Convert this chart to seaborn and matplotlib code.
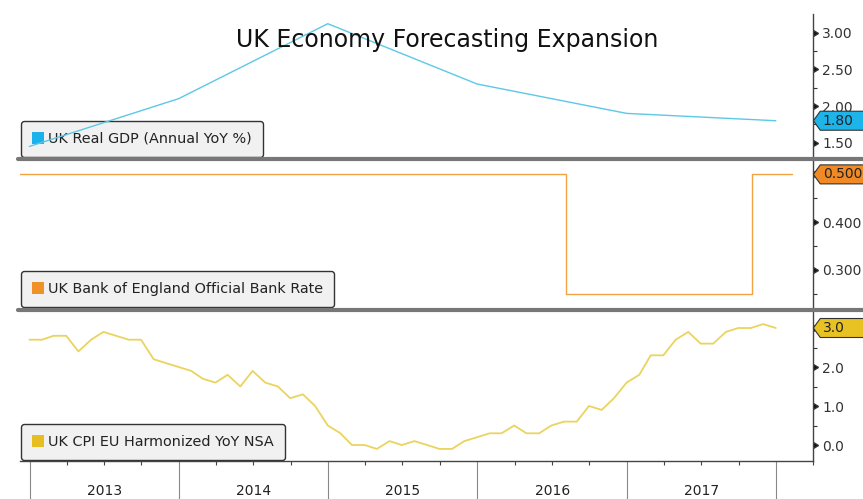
import numpy as np
import pandas as pd
import matplotlib
matplotlib.use("Agg")
import matplotlib.pyplot as plt
import seaborn as sns
import matplotlib.dates as mdates
import matplotlib.markers as mmarkers
from matplotlib.path import Path
from matplotlib.patches import Patch
from matplotlib.lines import Line2D

# ---------------- data ----------------
title = "UK Economy Forecasting Expansion"

gdp_label = "UK Real GDP (Annual YoY %)"
gdp_dates = ["2012-12-31", "2013-12-31", "2014-12-31", "2015-12-31", "2016-12-31", "2017-12-31"]
gdp_values = [1.45, 2.1, 3.12, 2.3, 1.9, 1.8]

rate_label = "UK Bank of England Official Bank Rate"
rate_dates = ["2012-12-01", "2016-08-04", "2017-11-02", "2018-02-09"]
rate_values = [0.5, 0.25, 0.5, 0.5]

cpi_label = "UK CPI EU Harmonized YoY NSA"
cpi_start = "2012-12-31"
cpi_values = [2.7,
              2.7, 2.8, 2.8, 2.4, 2.7, 2.9, 2.8, 2.7, 2.7, 2.2, 2.1, 2.0,
              1.9, 1.7, 1.6, 1.8, 1.5, 1.9, 1.6, 1.5, 1.2, 1.3, 1.0, 0.5,
              0.3, 0.0, 0.0, -0.1, 0.1, 0.0, 0.1, 0.0, -0.1, -0.1, 0.1, 0.2,
              0.3, 0.3, 0.5, 0.3, 0.3, 0.5, 0.6, 0.6, 1.0, 0.9, 1.2, 1.6,
              1.8, 2.3, 2.3, 2.7, 2.9, 2.6, 2.6, 2.9, 3.0, 3.0, 3.1, 3.0]

year_labels = ["2013", "2014", "2015", "2016", "2017"]

gdp_df = pd.DataFrame({"date": pd.to_datetime(gdp_dates), "value": gdp_values})
rate_df = pd.DataFrame({"date": pd.to_datetime(rate_dates), "value": rate_values})
cpi_df = pd.DataFrame({"date": pd.date_range(cpi_start, periods=len(cpi_values), freq="ME"),
                       "value": cpi_values})

# ---------------- style ----------------
sns.set_theme(style="white")
plt.rcParams["font.family"] = ["DejaVu Sans"]

W, H = 863, 499
fig = plt.figure(figsize=(W / 100, H / 100), dpi=100, facecolor="white")


def rect(top, bottom):
    return [20 / W, 1 - bottom / H, 793 / W, (bottom - top) / H]


ax1 = fig.add_axes(rect(14, 158))
ax2 = fig.add_axes(rect(161, 308), sharex=ax1)
ax3 = fig.add_axes(rect(311, 461), sharex=ax1)

gdp_col, gdp_sq, gdp_tag = "#5cc8e6", "#1ab2ea", "#1db4ea"
rate_col, rate_sq, rate_tag = "#f2a444", "#f0922a", "#f08a26"
cpi_col, cpi_sq, cpi_tag = "#ead45e", "#e6be22", "#e8c122"

sns.lineplot(data=gdp_df, x="date", y="value", ax=ax1, color=gdp_col, lw=1.0, zorder=3)
sns.lineplot(data=rate_df, x="date", y="value", ax=ax2, color=rate_col, lw=1.0,
             drawstyle="steps-post", zorder=3)
sns.lineplot(data=cpi_df, x="date", y="value", ax=ax3, color=cpi_col, lw=1.3, zorder=3)

ax3.set_xlim(pd.Timestamp("2012-12-08"), pd.Timestamp("2018-04-01"))


def tag_box(x0, y0, width, height, mutation_size):
    pad = 0.18 * mutation_size
    x0 -= pad
    y0 -= pad
    w = width + 2 * pad + 30
    h = height + 2 * pad
    tip = 0.36 * h
    verts = [(x0 - tip, y0 + h / 2), (x0, y0), (x0 + w, y0), (x0 + w, y0 + h),
             (x0, y0 + h), (x0 - tip, y0 + h / 2)]
    return Path(verts, closed=True)


def style_panel(ax, ylim, majors, minors, fmt, label, sq, series, tagc, tagtext):
    last = series["value"].iloc[-1]
    ax.set_ylim(*ylim)
    ax.set_facecolor("white")
    ax.set_xlabel("")
    ax.set_ylabel("")
    ax.yaxis.tick_right()
    ax.set_yticks(majors)
    ax.set_yticks(minors, minor=True)
    # the value tag covers the tick label at the last value
    ax.set_yticklabels(["" if abs(v - last) < 1e-9 else fmt.format(v) for v in majors])
    ax.tick_params(axis="y", which="major", right=True, left=False, length=5, width=1,
                   pad=1.5, colors="#333333", labelsize=10, direction="out")
    ax.tick_params(axis="y", which="minor", right=True, left=False, length=3, width=0.8,
                   color="#333333", direction="out")
    for t in ax.yaxis.get_major_ticks():
        t.tick2line.set_marker(mmarkers.CARETRIGHTBASE)
        t.tick2line.set_markersize(5)
        t.tick2line.set_color("#111111")
    for s in ["top", "left", "bottom"]:
        ax.spines[s].set_visible(False)
    ax.spines["right"].set_color("#444444")
    ax.spines["right"].set_linewidth(1)

    leg = ax.legend([Patch(facecolor=sq, edgecolor="none")], [label], loc="lower left",
                    bbox_to_anchor=(0, 0), borderaxespad=0.1, frameon=True, fancybox=True,
                    facecolor="#f1f1f1", edgecolor="#333333", framealpha=1,
                    handlelength=0.8, handleheight=0.9, handletextpad=0.3,
                    borderpad=0.75, fontsize=10.4)
    leg.get_frame().set_linewidth(1)
    leg.set_zorder(1)
    for t in leg.get_texts():
        t.set_color("#222222")

    ax.annotate(tagtext.format(last), xy=(1, last), xycoords=ax.get_yaxis_transform(),
                xytext=(7, 0), textcoords="offset points", ha="left", va="center",
                fontsize=10, color="#222222",
                bbox=dict(boxstyle=tag_box, fc=tagc, ec="#333333", lw=0.8),
                annotation_clip=False, zorder=10)


style_panel(ax1, (1.293, 3.252), [1.5, 2.0, 2.5, 3.0], [1.75, 2.25, 2.75], "{:.2f}",
            gdp_label, gdp_sq, gdp_df, gdp_tag, "{:.2f}")
style_panel(ax2, (0.2204, 0.528), [0.3, 0.4, 0.5], [0.25, 0.35, 0.45], "{:.3f}",
            rate_label, rate_sq, rate_df, rate_tag, "{:.3f}")
style_panel(ax3, (-0.41, 3.436), [0.0, 1.0, 2.0, 3.0], [0.5, 1.5, 2.5], "{:.1f}",
            cpi_label, cpi_sq, cpi_df, cpi_tag, "{:.1f}")

# x axis
ax3.xaxis.set_major_locator(mdates.YearLocator())
ax3.xaxis.set_minor_locator(mdates.MonthLocator(bymonth=[4, 7, 10]))
ax3.xaxis.set_major_formatter(matplotlib.ticker.NullFormatter())
ax3.xaxis.set_minor_formatter(matplotlib.ticker.NullFormatter())
for ax in (ax1, ax2):
    ax.tick_params(axis="x", which="both", bottom=False, labelbottom=False)
ax3.tick_params(axis="x", which="major", bottom=True, length=28, width=0.8,
                color="#888888", direction="out", labelbottom=False)
ax3.tick_params(axis="x", which="minor", bottom=True, length=3, width=0.8,
                color="#444444", direction="out")
ax3.spines["bottom"].set_visible(True)
ax3.spines["bottom"].set_color("#444444")
ax3.spines["bottom"].set_linewidth(1)

for y in year_labels:
    xm = mdates.date2num(pd.Timestamp(f"{y}-07-02"))
    ax3.annotate(y, xy=(xm, 0), xycoords=ax3.get_xaxis_transform(),
                 xytext=(0, -21.5), textcoords="offset points", ha="center", va="center",
                 fontsize=10, color="#222222", annotation_clip=False)

# panel separators
for ax in (ax1, ax2):
    yb = ax.get_position().y0 - 1.5 / H
    fig.add_artist(Line2D([18 / W, 1], [yb, yb], transform=fig.transFigure,
                          color="#777777", lw=3))

fig.text(447 / W, 1 - 40 / H, title, ha="center", va="center", fontsize=17, color="#111111")

fig.savefig("out.png", dpi=100, facecolor="white")
